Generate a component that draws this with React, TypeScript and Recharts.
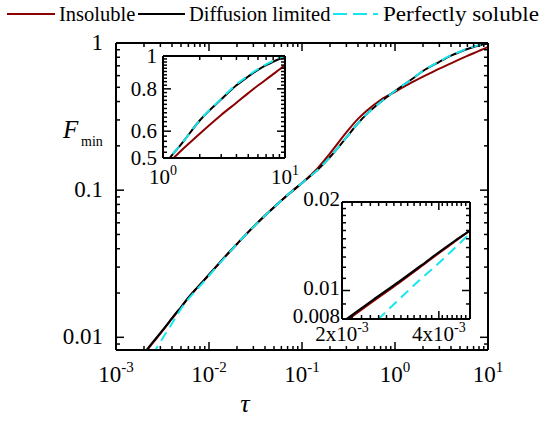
import React from 'react';
import { LineChart, Line, XAxis, YAxis } from 'recharts';

const W = 546;
const H = 421;
const FONT = '"Liberation Serif", "DejaVu Serif", serif';
const RED = '#8b0000';
const CYAN = '#18e6ee';

// tau and the three F_min curves
const tau = [0.002, 0.0025, 0.003, 0.0035, 0.004, 0.0045, 0.005, 0.006, 0.007, 0.01, 0.015, 0.02, 0.03, 0.05, 0.07, 0.1, 0.15, 0.2, 0.3, 0.4, 0.5, 0.7, 1, 1.5, 2, 3, 4, 5, 6, 7, 8, 9, 10];
const insoluble = [0.0077, 0.0092, 0.0106, 0.012, 0.0134, 0.0147, 0.016, 0.0186, 0.0208, 0.0266, 0.0355, 0.0431, 0.0563, 0.0765, 0.0926, 0.112, 0.143, 0.178, 0.247, 0.305, 0.348, 0.41, 0.466, 0.537, 0.59, 0.67, 0.728, 0.777, 0.818, 0.852, 0.884, 0.912, 0.94];
const diffusionLimited = [0.0078, 0.0093, 0.0107, 0.0121, 0.0135, 0.0148, 0.016, 0.0186, 0.0208, 0.0266, 0.0355, 0.0431, 0.0563, 0.0765, 0.0926, 0.112, 0.139, 0.168, 0.228, 0.285, 0.33, 0.397, 0.472, 0.565, 0.645, 0.745, 0.82, 0.87, 0.91, 0.94, 0.962, 0.98, 0.99];
const perfectlySoluble = [0.0062, 0.0077, 0.0093, 0.0109, 0.0124, 0.014, 0.0156, 0.0182, 0.0203, 0.0262, 0.0352, 0.0431, 0.0563, 0.0765, 0.0926, 0.112, 0.139, 0.168, 0.228, 0.285, 0.33, 0.397, 0.472, 0.565, 0.645, 0.748, 0.825, 0.875, 0.915, 0.945, 0.968, 0.988, 1.0];

const data = tau.map((t, i) => ({
  tau: t,
  ins: insoluble[i],
  dif: diffusionLimited[i],
  sol: perfectlySoluble[i],
}));

// tick labels
const mainXLabels = [
  { value: 1e-3, text: '10', sup: '-3' },
  { value: 1e-2, text: '10', sup: '-2' },
  { value: 1e-1, text: '10', sup: '-1' },
  { value: 1, text: '10', sup: '0' },
  { value: 10, text: '10', sup: '1' },
];
const mainYLabels = [
  { value: 0.01, text: '0.01' },
  { value: 0.1, text: '0.1' },
  { value: 1, text: '1' },
];
const inset1XLabels = [
  { value: 1, text: '10', sup: '0' },
  { value: 10, text: '10', sup: '1' },
];
const inset1YLabels = [
  { value: 0.5, text: '0.5' },
  { value: 0.6, text: '0.6' },
  { value: 0.8, text: '0.8' },
  { value: 1, text: '1' },
];
const inset2XLabels = [
  { value: 2e-3, text: '2x10', sup: '-3' },
  { value: 4e-3, text: '4x10', sup: '-3' },
];
const inset2YLabels = [
  { value: 0.008, text: '0.008' },
  { value: 0.01, text: '0.01' },
  { value: 0.02, text: '0.02' },
];

const near = (a: number, b: number) => Math.abs(a - b) <= Math.abs(b) * 1e-6;

function logTicks(lo: number, hi: number) {
  const out: number[] = [];
  for (let d = -4; d <= 1; d++) {
    for (let m = 1; m <= 9; m++) {
      const v = m * Math.pow(10, d);
      if (v >= lo * (1 - 1e-9) && v <= hi * (1 + 1e-9)) out.push(v);
    }
  }
  return out;
}
function stepTicks(lo: number, hi: number, step: number, extra: number[] = []) {
  const out: number[] = [...extra];
  for (let v = lo; v <= hi + step * 1e-6; v += step) {
    const r = Number(v.toPrecision(8));
    if (!out.some((e) => Math.abs(e - r) < step * 0.4)) out.push(r);
  }
  return out.sort((a, b) => a - b);
}

type Side = 'bottom' | 'top' | 'left' | 'right';
interface TickLabel { value: number; text: string; sup?: string }

function makeTick(side: Side, majors: number[], labels: TickLabel[], size: number, gap: number, shift = 0) {
  return (props: any) => {
    const x = Number(props.x);
    const y = Number(props.y);
    const v = props.payload.value;
    const len = majors.some((m) => near(v, m)) ? 8 : 4;
    const dx = side === 'left' ? len : side === 'right' ? -len : 0;
    const dy = side === 'top' ? len : side === 'bottom' ? -len : 0;
    const lab = labels.find((l) => near(v, l.value));
    const txt = { fontSize: size, fontFamily: FONT, fill: '#000' };
    let label = null;
    if (lab && side === 'bottom') {
      label = (
        <text x={x} y={y + gap} textAnchor="middle" style={txt}>
          {lab.text}
          {lab.sup && (
            <tspan dy={-size * 0.42} style={{ fontSize: Math.round(size * 0.65) }}>
              {lab.sup}
            </tspan>
          )}
        </text>
      );
    } else if (lab && side === 'left') {
      label = (
        <text x={x - gap} y={y + shift} textAnchor="end" style={txt}>
          {lab.text}
        </text>
      );
    }
    return (
      <g>
        <line x1={x} y1={y} x2={x + dx} y2={y + dy} stroke="#000" strokeWidth={1.5} />
        {label}
      </g>
    );
  };
}

interface FrameCfg {
  xDomain: [number, number];
  yDomain: [number, number];
  xTicks: number[];
  yTicks: number[];
  xMajors: number[];
  yMajors: number[];
  xLabels: TickLabel[];
  yLabels: TickLabel[];
  size: number;
  xGap: number;
  yGap: number;
  yShift: number;
}

function frame(c: FrameCfg) {
  const common = { type: 'number' as const, scale: 'log' as const, allowDataOverflow: true, interval: 0 as const, tickSize: 0, tickMargin: 0, tickLine: false, axisLine: { stroke: '#000', strokeWidth: 2 } };
  return [
    <XAxis key="xb" xAxisId="b" dataKey="tau" height={1} domain={c.xDomain} ticks={c.xTicks} tick={makeTick('bottom', c.xMajors, c.xLabels, c.size, c.xGap)} {...common} />,
    <XAxis key="xt" xAxisId="t" orientation="top" dataKey="tau" height={1} domain={c.xDomain} ticks={c.xTicks} tick={makeTick('top', c.xMajors, [], c.size, 0)} {...common} />,
    <YAxis key="yl" yAxisId="l" width={1} domain={c.yDomain} ticks={c.yTicks} tick={makeTick('left', c.yMajors, c.yLabels, c.size, c.yGap, c.yShift)} {...common} />,
    <YAxis key="yr" yAxisId="r" orientation="right" width={1} domain={c.yDomain} ticks={c.yTicks} tick={makeTick('right', c.yMajors, [], c.size, 0)} {...common} />,
  ];
}

function series() {
  return [
    <Line key="ins" xAxisId="b" yAxisId="l" dataKey="ins" type="monotone" stroke={RED} strokeWidth={2} dot={false} activeDot={false} isAnimationActive={false} />,
    <Line key="dif" xAxisId="b" yAxisId="l" dataKey="dif" type="monotone" stroke="#000" strokeWidth={2} dot={false} activeDot={false} isAnimationActive={false} />,
    <Line key="sol" xAxisId="b" yAxisId="l" dataKey="sol" type="monotone" stroke={CYAN} strokeWidth={2} strokeDasharray="10 6" dot={false} activeDot={false} isAnimationActive={false} />,
    <Line key="ghost" xAxisId="t" yAxisId="r" dataKey="dif" stroke="none" dot={false} activeDot={false} isAnimationActive={false} legendType="none" />,
  ];
}

const layer: React.CSSProperties = { position: 'absolute', left: 0, top: 0 };

export default function App() {
  return (
    <div style={{ position: 'absolute', left: 0, top: 0, width: W, height: H, background: '#fff', fontFamily: FONT }}>
      <div style={layer}>
        <LineChart width={W} height={H} data={data} margin={{ top: 42, right: 57, bottom: 70, left: 115 }}>
          {frame({
            xDomain: [1e-3, 10],
            yDomain: [0.0082, 1],
            xTicks: logTicks(1e-3, 10),
            yTicks: logTicks(0.0082, 1),
            xMajors: [1e-3, 1e-2, 1e-1, 1, 10],
            yMajors: [0.01, 0.1, 1],
            xLabels: mainXLabels,
            yLabels: mainYLabels,
            size: 23,
            xGap: 32,
            yGap: 13,
            yShift: 7,
          })}
          {series()}
        </LineChart>
      </div>
      <div style={layer}>
        <LineChart width={W} height={H} data={data} margin={{ top: 55, right: 260, bottom: 262, left: 162 }}>
          {frame({
            xDomain: [1, 10],
            yDomain: [0.5, 1],
            xTicks: logTicks(1, 10),
            yTicks: stepTicks(0.5, 1, 0.02),
            xMajors: [1, 10],
            yMajors: [0.5, 0.6, 0.8, 1],
            xLabels: inset1XLabels,
            yLabels: inset1YLabels,
            size: 21,
            xGap: 26,
            yGap: 6,
            yShift: 7,
          })}
          {series()}
        </LineChart>
      </div>
      <div style={layer}>
        <LineChart width={W} height={H} data={data} margin={{ top: 201, right: 75, bottom: 101, left: 341 }}>
          {frame({
            xDomain: [2e-3, 5e-3],
            yDomain: [0.008, 0.02],
            xTicks: stepTicks(2e-3, 5e-3, 0.15e-3, [2e-3, 4e-3]),
            yTicks: stepTicks(0.008, 0.02, 0.001),
            xMajors: [2e-3, 4e-3],
            yMajors: [0.01, 0.02],
            xLabels: inset2XLabels,
            yLabels: inset2YLabels,
            size: 21,
            xGap: 22,
            yGap: 2,
            yShift: 4,
          })}
          {series()}
        </LineChart>
      </div>
      <svg width={W} height={H} style={{ ...layer, pointerEvents: 'none', fontFamily: FONT }}>
        <line x1={7} x2={55} y1={14} y2={14} stroke={RED} strokeWidth={2} />
        <text x={59} y={21} style={{ fontSize: 20.5 }}>Insoluble</text>
        <line x1={138} x2={185} y1={14} y2={14} stroke="#000" strokeWidth={2} />
        <text x={189} y={21} style={{ fontSize: 20.5 }}>Diffusion limited</text>
        <line x1={333} x2={378} y1={14} y2={14} stroke={CYAN} strokeWidth={2} strokeDasharray="14 6" />
        <text x={383} y={21} textLength={156} lengthAdjust="spacingAndGlyphs" style={{ fontSize: 21 }}>Perfectly soluble</text>
        <text x={63} y={138} style={{ fontSize: 25, fontStyle: 'italic' }}>F</text>
        <text x={81} y={146} style={{ fontSize: 14 }}>min</text>
        <text x={245} y={412} textAnchor="middle" style={{ fontSize: 26, fontStyle: 'italic' }}>τ</text>
      </svg>
    </div>
  );
}
